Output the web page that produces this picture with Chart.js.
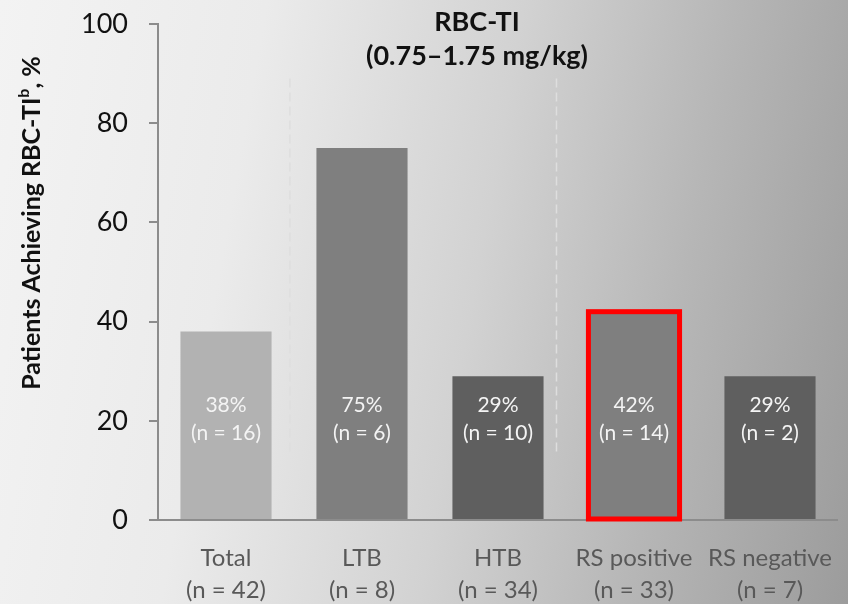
<!DOCTYPE html>
<html>
<head>
<meta charset="utf-8">
<script src="https://cdn.jsdelivr.net/npm/chart.js@4.4.1/dist/chart.umd.min.js"></script>
<style>
  body { margin: 0; }
  #wrap {
    position: relative; width: 848px; height: 604px;
    background: linear-gradient(100deg, #f3f3f3 0%, #ebebeb 28%, #d2d2d2 55%, #b6b6b6 77%, #9c9c9c 100%);
  }
</style>
</head>
<body>
<div id="wrap"><canvas id="myChart" width="848" height="604"></canvas></div>
<script>
// data
const categories = ['Total', 'LTB', 'HTB', 'RS positive', 'RS negative'];
const groupSizes = [42, 8, 34, 33, 7];
const pctAchieving = [38, 75, 29, 42, 29];
const responders = [16, 6, 10, 14, 2];
const yTicks = [0, 20, 40, 60, 80, 100];
const dividerAt = [0.47, 2.43];   // dashed separators, in category units
const highlightIdx = 3;           // RS positive gets the red box

const barColors = ['#b2b2b2', '#7f7f7f', '#5f5f5f', '#7f7f7f', '#5f5f5f'];
const FONT = 'Lato, "Open Sans", sans-serif';

const extras = {
  id: 'extras',
  beforeDatasetsDraw(chart) {
    const { ctx, scales: { x, y } } = chart;
    ctx.save();
    ctx.strokeStyle = '#dedede';
    ctx.lineWidth = 1.5;
    ctx.setLineDash([9, 5]);
    dividerAt.forEach(d => {
      const px = x.getPixelForValue(d);
      ctx.beginPath();
      ctx.moveTo(px, y.getPixelForValue(89));
      ctx.lineTo(px, y.getPixelForValue(13.5));
      ctx.stroke();
    });
    ctx.restore();
  },
  afterDatasetsDraw(chart) {
    const { ctx, scales: { y } } = chart;
    const bars = chart.getDatasetMeta(0).data;
    ctx.save();
    // red outline, centred on the bar edges
    const b = bars[highlightIdx];
    ctx.strokeStyle = '#ff0000';
    ctx.lineWidth = 5;
    ctx.strokeRect(b.x - b.width / 2, b.y, b.width, b.base - b.y);
    // labels inside the bars
    ctx.fillStyle = '#f4f4f4';
    ctx.font = '21px ' + FONT;
    ctx.textAlign = 'center';
    ctx.textBaseline = 'middle';
    bars.forEach((bar, i) => {
      ctx.fillText(pctAchieving[i] + '%', bar.x, y.getPixelForValue(23.2));
      ctx.fillText('(n = ' + responders[i] + ')', bar.x, y.getPixelForValue(17.5));
    });
    ctx.restore();
  },
  afterDraw(chart) {
    const ctx = chart.ctx;
    ctx.save();
    ctx.fillStyle = '#111';
    ctx.textAlign = 'center';
    ctx.textBaseline = 'middle';
    ctx.font = 'bold 27px ' + FONT;
    ctx.fillText('RBC-TI', 477, 22);
    ctx.fillText('(0.75\u20131.75 mg/kg)', 477, 56);

    // y axis title with superscript b
    ctx.translate(32, 223);
    ctx.rotate(-Math.PI / 2);
    const main = 'Patients Achieving RBC-TI', sup = 'b', tail = ', %';
    const bigF = 'bold 25px ' + FONT, supF = 'bold 16px ' + FONT;
    ctx.font = bigF; const w1 = ctx.measureText(main).width, w3 = ctx.measureText(tail).width;
    ctx.font = supF; const w2 = ctx.measureText(sup).width;
    let sx = -(w1 + w2 + w3) / 2;
    ctx.textAlign = 'left';
    ctx.font = bigF; ctx.fillText(main, sx, 0); sx += w1;
    ctx.font = supF; ctx.fillText(sup, sx, -8); sx += w2;
    ctx.font = bigF; ctx.fillText(tail, sx, 0);
    ctx.restore();
  }
};

new Chart(document.getElementById('myChart'), {
  type: 'bar',
  data: {
    labels: categories.map((c, i) => [c, '(n = ' + groupSizes[i] + ')']),
    datasets: [{
      data: pctAchieving,
      backgroundColor: barColors,
      borderWidth: 0,
      categoryPercentage: 1,
      barPercentage: 0.67
    }]
  },
  options: {
    responsive: false,
    devicePixelRatio: 1,
    animation: false,
    layout: { padding: { top: 24, right: 10, left: 0, bottom: 0 } },
    plugins: { legend: { display: false }, tooltip: { enabled: false }, title: { display: false } },
    scales: {
      x: {
        grid: { display: false },
        border: { display: true, color: '#8c8c8c', width: 2 },
        ticks: {
          color: '#595959',
          font: { family: FONT, size: 24, lineHeight: 1.3 },
          padding: 15,
          maxRotation: 0,
          autoSkip: false
        },
        afterFit(scale) { scale.height = 84; }
      },
      y: {
        min: 0,
        max: 100,
        afterBuildTicks(scale) { scale.ticks = yTicks.map(v => ({ value: v })); },
        grid: { drawOnChartArea: false, drawTicks: true, tickLength: 9, color: '#8c8c8c', lineWidth: 2 },
        border: { display: true, color: '#8c8c8c', width: 2 },
        ticks: { color: '#111', font: { family: FONT, size: 27 }, padding: 21 },
        afterFit(scale) {
          scale.width = 158;
          scale.paddingTop = 0;
          scale.paddingBottom = 0;
        }
      }
    }
  },
  plugins: [extras]
});
</script>
</body>
</html>
